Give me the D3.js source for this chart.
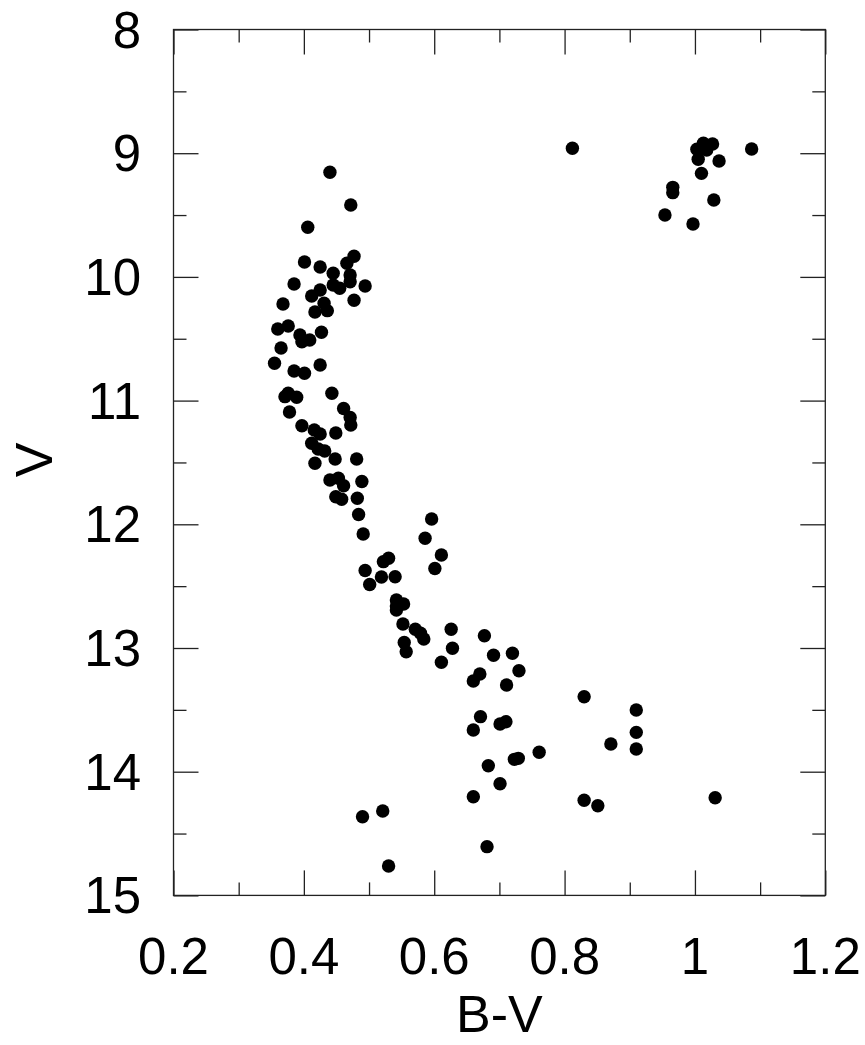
<!DOCTYPE html>
<html>
<head>
<meta charset="utf-8">
<script src="https://cdn.jsdelivr.net/npm/d3@7/dist/d3.min.js"></script>
<style type="text/css">
    body { margin: 0; background: #fff; }
    .axis path { display: none; }
    .axis line { stroke: #222; stroke-width: 1.3; }
    .label { font-family: "Liberation Sans", Arial, sans-serif; fill: #000; }
</style>
</head>
<body>
<script>

// colour index (B-V) of each star
var bv = [
    0.440,0.472,0.406,0.401,0.425,0.477,0.466,0.445,0.471,0.445,
    0.455,0.471,0.494,0.477,0.385,0.425,0.412,0.431,0.417,0.436,
    0.368,0.360,0.376,0.394,0.409,0.427,0.397,0.365,0.355,0.385,
    0.401,0.425,0.376,0.389,0.371,0.378,0.443,0.461,0.471,0.472,
    0.397,0.416,0.425,0.449,0.412,0.422,0.432,0.417,0.448,0.481,
    0.440,0.453,0.461,0.489,0.449,0.458,0.482,0.484,0.491,0.596,
    0.586,0.611,0.601,0.522,0.530,0.494,0.519,0.540,0.501,0.542,
    0.542,0.553,0.542,0.552,0.571,0.579,0.584,0.554,0.557,0.626,
    0.628,0.611,0.677,0.691,0.720,0.730,0.711,0.660,0.670,0.671,
    0.660,0.701,0.710,0.830,0.761,0.729,0.723,0.683,0.701,0.660,
    0.871,0.910,0.910,0.910,0.830,0.851,1.031,0.490,0.521,0.681,0.530,
    0.812,1.087,1.013,1.027,1.003,1.018,1.005,1.037,1.010,0.966,0.966,1.029,0.954,0.997
];

// visual magnitude (V) of each star, same order
var vmag = [
    9.154,9.419,9.599,9.880,9.920,9.833,9.890,9.971,9.985,10.066,
    10.092,10.039,10.074,10.189,10.057,10.106,10.154,10.213,10.284,10.273,
    10.219,10.421,10.397,10.470,10.510,10.448,10.524,10.575,10.698,10.761,
    10.779,10.712,10.941,10.973,10.968,11.092,10.941,11.064,11.137,11.197,
    11.203,11.238,11.270,11.262,11.345,11.391,11.407,11.507,11.472,11.472,
    11.642,11.628,11.688,11.654,11.777,11.798,11.790,11.921,12.078,11.957,
    12.113,12.248,12.357,12.302,12.275,12.374,12.426,12.424,12.487,12.612,
    12.661,12.644,12.693,12.806,12.849,12.881,12.927,12.956,13.030,12.849,
    13.002,13.115,12.901,13.059,13.043,13.184,13.299,13.267,13.210,13.555,
    13.663,13.614,13.596,13.394,13.843,13.892,13.900,13.952,14.097,14.202,
    13.776,13.501,13.682,13.817,14.231,14.275,14.210,14.364,14.318,14.606,14.762,
    8.960,8.966,8.920,8.926,8.968,8.974,9.049,9.063,9.163,9.276,9.319,9.378,9.500,9.572
];

// tick values
var xMajor = [0.2, 0.4, 0.6, 0.8, 1.0, 1.2];
var xMinor = [0.3, 0.5, 0.7, 0.9, 1.1];
var yMajor = [8, 9, 10, 11, 12, 13, 14, 15];
var yMinor = [8.5, 9.5, 10.5, 11.5, 12.5, 13.5, 14.5];

var outer_width = 865;
var outer_height = 1045;

// plot frame in page pixels (note: "top" is taken by window.top)
var frameLeft = 173.5, frameRight = 825.3, frameTop = 29.5, frameBottom = 895.4;
var majorLen = 25, minorLen = 13;

var xScale = d3.scaleLinear().domain([0.2, 1.2]).range([frameLeft, frameRight]);
var yScale = d3.scaleLinear().domain([8, 15]).range([frameTop, frameBottom]);

var svg = d3.select("body")
    .append("svg")
    .attr("width", outer_width)
    .attr("height", outer_height);

// frame
svg.append("rect")
    .attr("x", frameLeft)
    .attr("y", frameTop)
    .attr("width", frameRight - frameLeft)
    .attr("height", frameBottom - frameTop)
    .style("fill", "none")
    .style("stroke", "#222")
    .style("stroke-width", 1.3);

// inward ticks on all four sides, long for majors and short for minors
function addTicks(axisFn, scale, values, len, tx, ty) {
    svg.append("g")
        .attr("class", "axis")
        .attr("transform", "translate(" + tx + "," + ty + ")")
        .call(axisFn(scale).tickValues(values).tickSize(len).tickFormat(""));
}
addTicks(d3.axisBottom, xScale, xMajor, -majorLen, 0, frameBottom);
addTicks(d3.axisBottom, xScale, xMinor, -minorLen, 0, frameBottom);
addTicks(d3.axisTop, xScale, xMajor, -majorLen, 0, frameTop);
addTicks(d3.axisTop, xScale, xMinor, -minorLen, 0, frameTop);
addTicks(d3.axisLeft, yScale, yMajor, -majorLen, frameLeft, 0);
addTicks(d3.axisLeft, yScale, yMinor, -minorLen, frameLeft, 0);
addTicks(d3.axisRight, yScale, yMajor, -majorLen, frameRight, 0);
addTicks(d3.axisRight, yScale, yMinor, -minorLen, frameRight, 0);

// tick labels
svg.selectAll("text.xlab")
    .data(xMajor)
    .enter().append("text")
    .attr("class", "label xlab")
    .attr("x", function(d) { return xScale(d); })
    .attr("y", 974)
    .style("font-size", "51px")
    .style("text-anchor", "middle")
    .text(function(d) { return d3.format("")(d); });

svg.selectAll("text.ylab")
    .data(yMajor)
    .enter().append("text")
    .attr("class", "label ylab")
    .attr("x", 141)
    .attr("y", function(d) { return yScale(d) + 18; })
    .style("font-size", "51px")
    .style("text-anchor", "end")
    .text(function(d) { return d; });

// axis titles
svg.append("text")
    .attr("class", "label")
    .attr("x", (frameLeft + frameRight) / 2)
    .attr("y", 1032)
    .style("font-size", "52px")
    .style("text-anchor", "middle")
    .text("B-V");

svg.append("text")
    .attr("class", "label")
    .attr("transform", "translate(52,460) rotate(-90)")
    .style("font-size", "52px")
    .style("text-anchor", "middle")
    .text("V");

// stars
svg.selectAll("circle")
    .data(d3.range(bv.length))
    .enter().append("circle")
    .attr("cx", function(i) { return xScale(bv[i]); })
    .attr("cy", function(i) { return yScale(vmag[i]); })
    .attr("r", 6.7)
    .style("fill", "#000");

</script>
</body>
</html>
